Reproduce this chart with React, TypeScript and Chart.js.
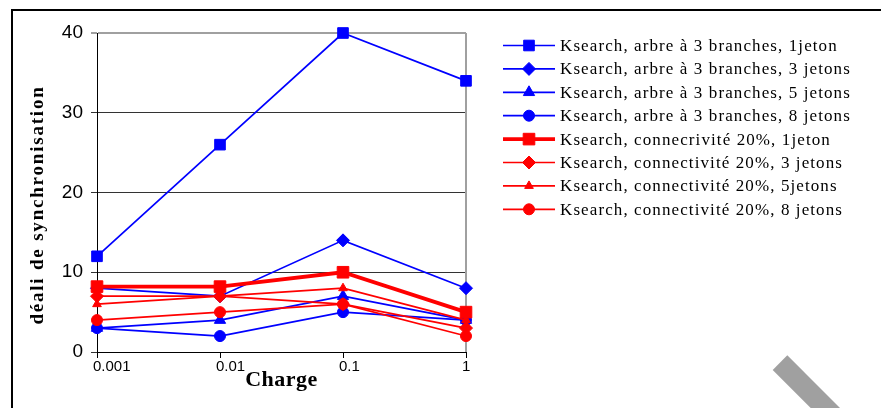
import { useEffect, useRef } from "react";
import { Chart, registerables } from "chart.js";
import { drawPoint } from "chart.js/helpers";

Chart.register(...registerables);

// Load levels on the category axis
const charges = ["0.001", "0.01", "0.1", "1"];

// Synchronisation delay per configuration
const arbre1Jeton = [12, 26, 40, 34];
const arbre3Jetons = [8, 7, 14, 8];
const arbre5Jetons = [3, 4, 7, 4];
const arbre8Jetons = [3, 2, 5, 4];
const connect1Jeton = [8.2, 8.2, 10, 5];
const connect3Jetons = [7, 7, 6, 3];
const connect5Jetons = [6, 7, 8, 4];
const connect8Jetons = [4, 5, 6, 2];

const seriesLabels = [
  "Ksearch, arbre à 3 branches, 1jeton",
  "Ksearch, arbre à 3 branches, 3 jetons",
  "Ksearch, arbre à 3 branches, 5 jetons",
  "Ksearch, arbre à 3 branches, 8 jetons",
  "Ksearch, connecrivité 20%, 1jeton",
  "Ksearch, connectivité 20%, 3 jetons",
  "Ksearch, connectivité 20%, 5jetons",
  "Ksearch, connectivité 20%, 8 jetons",
];

const yMin = 0;
const yMax = 40;
const yStep = 10;

const yTitle = "déali de synchronisation";
const xTitle = "Charge";

const BLUE = "#0000ff";
const RED = "#ff0000";

type Style = { color: string; width: number; point: string; radius: number };
const styles: Style[] = [
  { color: BLUE, width: 1.7, point: "rect", radius: 7.5 },
  { color: BLUE, width: 1.7, point: "rectRot", radius: 6.5 },
  { color: BLUE, width: 1.7, point: "triangle", radius: 6.5 },
  { color: BLUE, width: 1.7, point: "circle", radius: 5.5 },
  { color: RED, width: 3.8, point: "rect", radius: 8.2 },
  { color: RED, width: 1.7, point: "rectRot", radius: 6.5 },
  { color: RED, width: 1.7, point: "triangle", radius: 5 },
  { color: RED, width: 1.7, point: "circle", radius: 5.5 },
];

const seriesValues = [
  arbre1Jeton,
  arbre3Jetons,
  arbre5Jetons,
  arbre8Jetons,
  connect1Jeton,
  connect3Jetons,
  connect5Jetons,
  connect8Jetons,
];

// Page frame, plot border and the grey diagonal strip
const framePlugin = {
  id: "frame",
  beforeDraw(chart: any) {
    const { ctx, width, height } = chart;
    ctx.save();
    ctx.fillStyle = "#ffffff";
    ctx.fillRect(0, 0, width, height);
    ctx.strokeStyle = "#000000";
    ctx.lineWidth = 2;
    ctx.strokeRect(12, 10, width + 50, height + 50);
    ctx.restore();
  },
  beforeDatasetsDraw(chart: any) {
    const { ctx, chartArea } = chart;
    ctx.save();
    ctx.strokeStyle = "#a0a0a0";
    ctx.lineWidth = 2;
    ctx.beginPath();
    ctx.moveTo(chartArea.right, chartArea.top);
    ctx.lineTo(chartArea.right, chartArea.bottom);
    ctx.stroke();
    ctx.restore();
  },
  afterDraw(chart: any) {
    const { ctx } = chart;
    ctx.save();
    ctx.fillStyle = "#a0a0a0";
    ctx.beginPath();
    ctx.moveTo(772.7, 370);
    ctx.lineTo(787.3, 355.3);
    ctx.lineTo(840, 408);
    ctx.lineTo(810.7, 408);
    ctx.closePath();
    ctx.fill();
    ctx.restore();
  },
};

// Axis titles and the line + marker legend on the right
const annotationsPlugin = {
  id: "annotations",
  afterDraw(chart: any) {
    const { ctx, chartArea } = chart;
    ctx.save();
    ctx.fillStyle = "#000000";

    ctx.font = "bold 19px 'Liberation Serif', serif";
    (ctx as any).letterSpacing = "1.8px";
    ctx.textAlign = "center";
    ctx.textBaseline = "alphabetic";
    ctx.save();
    ctx.translate(43, 205);
    ctx.rotate(-Math.PI / 2);
    ctx.fillText(yTitle, 0, 0);
    ctx.restore();

    (ctx as any).letterSpacing = "0.5px";
    ctx.font = "bold 22px 'Liberation Serif', serif";
    ctx.fillText(xTitle, (chartArea.left + chartArea.right) / 2, 386);

    ctx.font = "17px 'Liberation Serif', serif";
    (ctx as any).letterSpacing = "1.1px";
    ctx.textAlign = "left";
    ctx.textBaseline = "middle";
    const rowStart = 45.5;
    const rowGap = 23.4;
    chart.data.datasets.forEach((ds: any, i: number) => {
      const y = rowStart + i * rowGap;
      ctx.strokeStyle = ds.borderColor;
      ctx.fillStyle = ds.borderColor;
      ctx.lineWidth = ds.borderWidth;
      ctx.beginPath();
      ctx.moveTo(503, y);
      ctx.lineTo(555, y);
      ctx.stroke();
      ctx.lineWidth = 1;
      drawPoint(ctx, { pointStyle: ds.pointStyle, radius: ds.pointRadius, rotation: 0, borderWidth: 1 }, 529, y);
      ctx.fillStyle = "#000000";
      ctx.fillText(ds.label, 560, y + 1);
    });
    ctx.restore();
  },
};

export default function App() {
  const canvasRef = useRef<HTMLCanvasElement | null>(null);

  useEffect(() => {
    const canvas = canvasRef.current;
    if (!canvas) return;

    const datasets = seriesValues.map((values, i) => ({
      label: seriesLabels[i],
      data: values,
      borderColor: styles[i].color,
      backgroundColor: styles[i].color,
      borderWidth: styles[i].width,
      pointStyle: styles[i].point,
      pointRadius: styles[i].radius,
      pointBorderWidth: 1,
      pointBackgroundColor: styles[i].color,
      pointBorderColor: styles[i].color,
      tension: 0,
      clip: false as any,
      order: seriesValues.length - i,
    }));

    const chart = new Chart(canvas, {
      type: "line",
      data: { labels: charges, datasets },
      options: {
        responsive: false,
        animation: false,
        events: [],
        layout: {
          autoPadding: false,
          padding: { left: 57, top: 33, right: 415, bottom: 26 },
        },
        plugins: {
          legend: { display: false },
          tooltip: { enabled: false },
          title: { display: false },
        },
        scales: {
          x: {
            type: "category",
            offset: false,
            grid: {
              drawOnChartArea: false,
              drawTicks: true,
              tickLength: 6,
              color: "#000000",
            },
            border: { color: "#000000", width: 1 },
            ticks: {
              color: "#000000",
              font: { family: "'Liberation Sans', Arial, sans-serif", size: 15 },
              align: "start",
              labelOffset: -4,
              padding: 0,
              maxRotation: 0,
              autoSkip: false,
            },
            afterFit(scale: any) {
              scale.height = 30;
            },
          },
          y: {
            min: yMin,
            max: yMax,
            grid: {
              color: (c: any) => (c.tick && c.tick.value === yMax ? "#a0a0a0" : "#333333"),
              lineWidth: (c: any) => (c.tick && c.tick.value === yMax ? 2 : 1),
              tickLength: 6,
            },
            border: { color: "#000000", width: 1 },
            ticks: {
              stepSize: yStep,
              color: "#000000",
              font: { family: "'Liberation Sans', Arial, sans-serif", size: 19 },
              padding: 8,
            },
            afterFit(scale: any) {
              scale.width = 40;
            },
          },
        },
      } as any,
      plugins: [framePlugin, annotationsPlugin],
    });

    return () => chart.destroy();
  }, []);

  return (
    <div style={{ position: "absolute", left: 0, top: 0, width: 881, height: 408, background: "#fff" }}>
      <canvas ref={canvasRef} width={881} height={408} style={{ display: "block" }} />
    </div>
  );
}
